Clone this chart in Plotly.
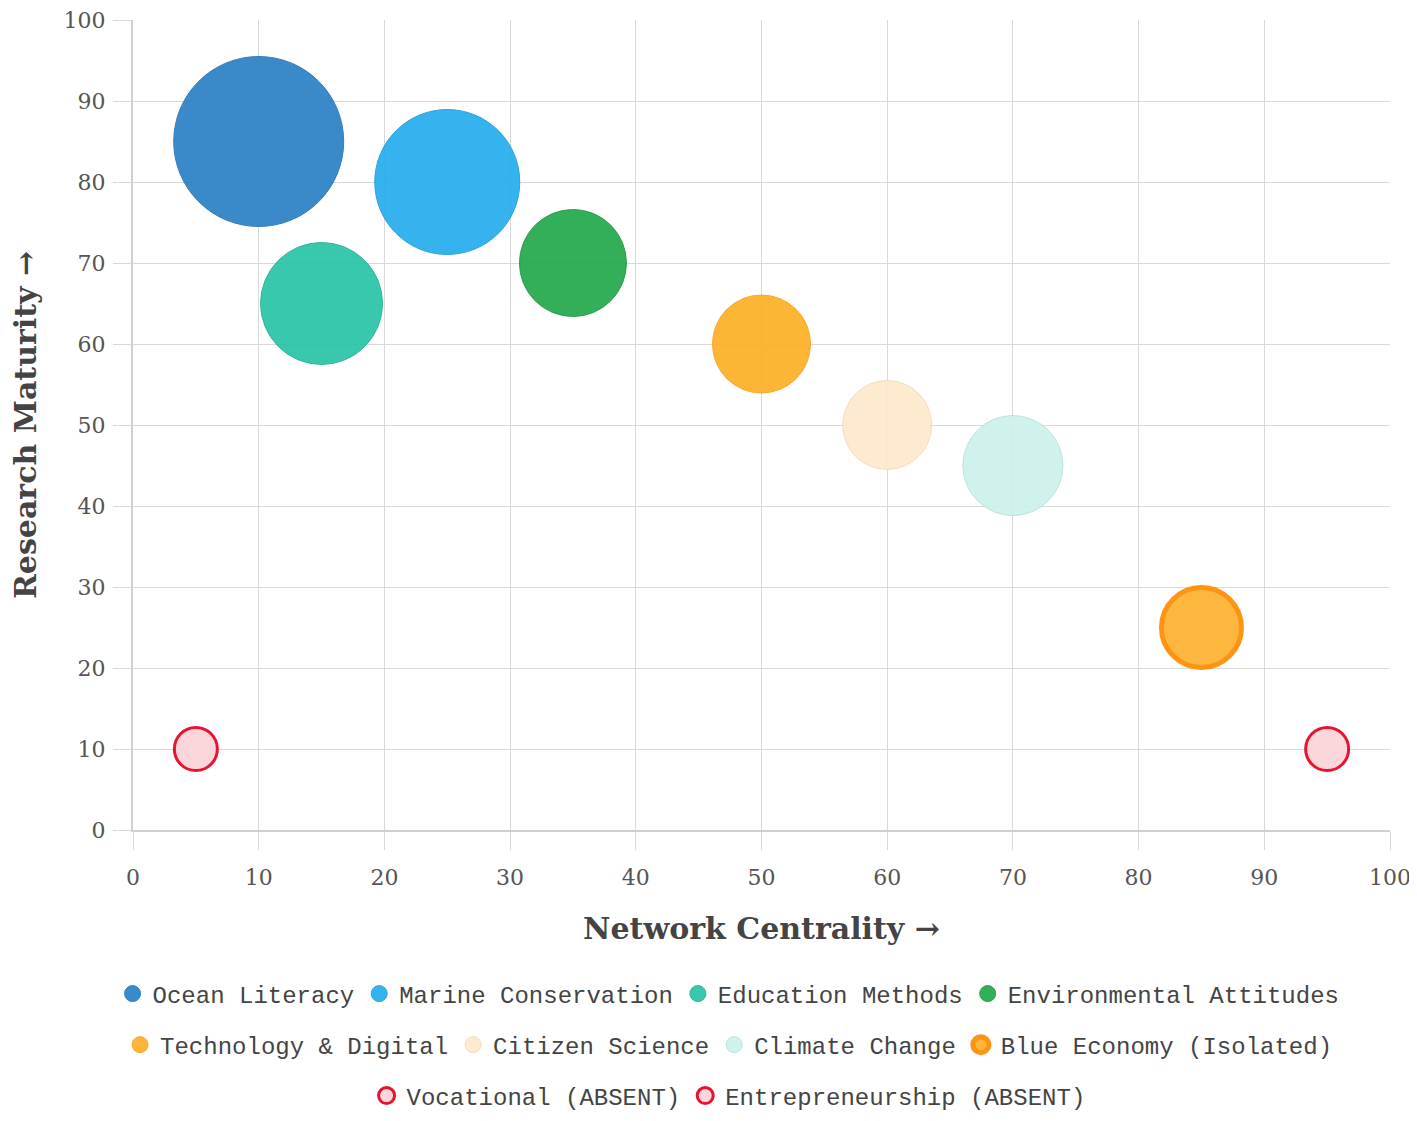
import plotly.graph_objects as go

categories = ["Ocean Literacy", "Marine Conservation", "Education Methods",
              "Environmental Attitudes", "Technology & Digital", "Citizen Science",
              "Climate Change", "Blue Economy (Isolated)", "Vocational (ABSENT)",
              "Entrepreneurship (ABSENT)"]
network_centrality = [10, 25, 15, 35, 50, 60, 70, 85, 5, 95]
research_maturity = [85, 80, 65, 70, 60, 50, 45, 25, 10, 10]
bubble_size = [170, 145, 122, 107, 98, 89, 100, 80, 43, 43]
legend_row = ["legend", "legend", "legend", "legend",
              "legend2", "legend2", "legend2", "legend2",
              "legend3", "legend3"]

fill_colors = ["#2A80C4", "#23ADEE", "#27C4A8", "#22A84C", "#FDAF24",
               "#FDE9CC", "#CDF1EC", "#FDB12E", "#FBD3D8", "#FBD3D8"]
line_colors = ["#2574B5", "#1E9BD8", "#22AE96", "#1E9543", "#F5A31A",
               "#EEDCBE", "#BBE0DA", "#FF8C00", "#E60020", "#E60020"]
line_widths = [1, 1, 1, 1, 1, 1, 1, 5, 3, 3]

tick_vals = list(range(0, 101, 10))

fig = go.Figure()
for i, name in enumerate(categories):
    fig.add_trace(go.Scatter(
        x=[network_centrality[i]], y=[research_maturity[i]],
        mode="markers", name=name, legend=legend_row[i],
        marker=dict(size=bubble_size[i], sizemode="diameter",
                    color=fill_colors[i], opacity=0.92,
                    line=dict(color=line_colors[i], width=line_widths[i])),
    ))

serif = "DejaVu Serif"
axis_common = dict(
    range=[0, 100], tickvals=tick_vals, showgrid=True, gridcolor="#d9d9d9",
    gridwidth=1, ticks="outside", ticklen=18, tickcolor="#d9d9d9", tickwidth=1,
    showline=True, linecolor="#d0d0d0", linewidth=2, zeroline=False,
    automargin=False, ticklabeloverflow="allow",
    tickfont=dict(family=serif, size=22, color="#555555"),
)

legend_common = dict(orientation="h", xref="container", yref="container",
                     xanchor="center", x=0.5114, yanchor="middle",
                     font=dict(family="Liberation Mono", size=24, color="#444444"),
                     itemsizing="trace", bgcolor="rgba(0,0,0,0)")

fig.update_layout(
    width=1409, height=1105,
    margin=dict(l=125, r=27, t=12, b=283),
    paper_bgcolor="white", plot_bgcolor="white",
    xaxis=dict(**axis_common, ticklabelstandoff=9,
               title=dict(text="<b>Network Centrality →</b>", standoff=29,
                          font=dict(family=serif, size=30, color="#444444"))),
    yaxis=dict(**axis_common, ticklabelstandoff=3,
               title=dict(text="<b>Research Maturity →</b>", standoff=41,
                          font=dict(family=serif, size=30, color="#444444"))),
    legend=dict(**legend_common, y=0.1077),
    legend2=dict(**legend_common, y=0.0615),
    legend3=dict(**legend_common, y=0.0154),
    showlegend=True,
)

fig.write_html("out.html")
